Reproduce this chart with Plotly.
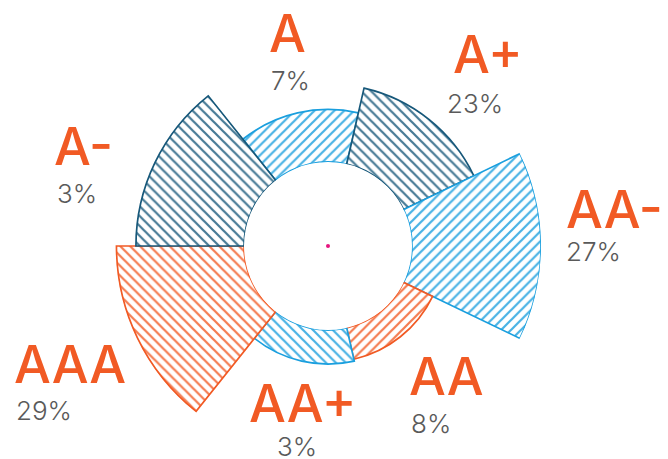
import plotly.graph_objects as go

# ---- data ----
categories = ["A", "A+", "AA-", "AA", "AA+", "AAA", "A-"]
bar_length = [54, 80, 132.5, 33, 35, 131, 111]
percent_labels = ["7%", "23%", "27%", "8%", "3%", "29%", "3%"]

# ---- styles ----
NAVY = "#17587a"
BLUE = "#1a9fde"
ORANGE = "#f15a24"
bar_colors = [BLUE, NAVY, BLUE, ORANGE, BLUE, ORANGE, NAVY]
bar_shapes = ["/", "\\", "/", "/", "\\", "\\", "\\"]

W, H = 668, 459
CX, CY, R = 328, 246, 213  # polar centre and radius in pixels
HOLE_PX = 84

fig = go.Figure()
fig.add_trace(go.Barpolar(
    r=bar_length,
    theta=categories,
    marker=dict(
        color="white",
        line=dict(color=bar_colors, width=1.7),
        pattern=dict(shape=bar_shapes, fgcolor=bar_colors, bgcolor="white",
                     size=7, solidity=0.32, fgopacity=0.8),
    ),
    hoverinfo="skip",
))

# label placement (left edge px, vertical centre px) for name and percentage
name_pos = [(268, 33.5), (452, 55), (565, 210), (408, 376.5),
            (248, 403.5), (13, 364), (53, 146.5)]
pct_pos = [(270, 80), (446, 103), (565, 251), (410, 423.5),
           (276, 446), (15, 410.5), (56, 193.5)]

annotations = []
for cat, pct, (nx, ny), (px, py) in zip(categories, percent_labels, name_pos, pct_pos):
    annotations.append(dict(
        text=cat, x=nx / W, y=1 - ny / H, xref="paper", yref="paper",
        xanchor="left", yanchor="middle", showarrow=False, borderpad=0,
        font=dict(family="Inter", size=52, color=ORANGE, weight=500),
    ))
    annotations.append(dict(
        text=pct, x=px / W, y=1 - py / H, xref="paper", yref="paper",
        xanchor="left", yanchor="middle", showarrow=False, borderpad=0,
        font=dict(family="Inter", size=26, color="#5a5a5a", weight=300),
    ))

fig.update_layout(
    width=W, height=H,
    margin=dict(l=0, r=0, t=0, b=0),
    paper_bgcolor="white",
    showlegend=False,
    polar=dict(
        domain=dict(x=[(CX - R) / W, (CX + R) / W], y=[0, 2 * R / H]),
        hole=HOLE_PX / R,
        bgcolor="rgba(0,0,0,0)",
        bargap=0,
        radialaxis=dict(range=[0, max(bar_length)], visible=False),
        angularaxis=dict(type="category", categoryorder="array",
                         categoryarray=categories, rotation=102.86,
                         direction="clockwise", visible=False),
    ),
    annotations=annotations,
    shapes=[dict(type="circle", xref="paper", yref="paper",
                 x0=(CX - 2) / W, x1=(CX + 2) / W,
                 y0=1 - (CY + 2) / H, y1=1 - (CY - 2) / H,
                 fillcolor="#e6157f", line=dict(width=0))],
)

fig.write_html("out.html",
               config={"displayModeBar": False, "staticPlot": True},
               post_script="document.body.style.margin='0';"
                           "document.body.style.overflow='hidden';")
